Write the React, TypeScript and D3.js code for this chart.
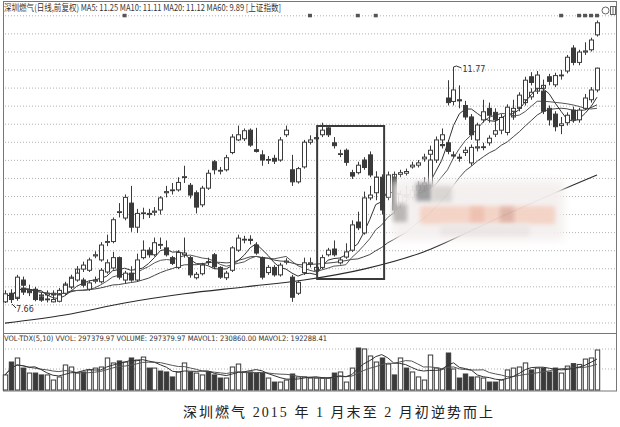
import React from 'react';
import * as d3 from 'd3';

// 深圳燃气 daily candles (前复权)
const stockOpen = [7.68,7.83,7.76,8.06,7.86,7.90,7.76,7.72,7.68,7.69,
7.83,7.94,8.06,8.06,7.90,8.04,8.03,8.20,8.27,8.45,
8.06,8.18,8.06,8.45,8.58,8.50,8.68,8.62,8.45,8.28,
8.50,8.45,8.10,8.17,8.38,8.50,8.28,8.10,8.23,8.58,
8.76,8.77,8.67,8.45,8.19,8.28,8.15,8.37,8.11,7.83,
8.19,8.34,8.23,8.28,8.50,8.60,8.36,8.46,8.58,9.07,
8.88,9.49,9.58,9.85,9.50,9.85,9.40,9.55,9.50,9.62,
9.70,9.71,10.15,10.50,11.23,11.17,11.20,11.10,10.90,10.50,
10.85,11.05,10.98,10.67,10.63,11.00,11.07,11.20,11.60,11.40,
11.35,11.05,10.95,10.75,10.80,11.02,10.85,11.05,11.20,11.37];
const stockClose = [7.82,7.72,8.11,7.97,7.88,7.72,7.71,7.73,7.72,7.80,
7.97,8.09,8.18,7.97,8.01,8.06,8.23,8.36,8.45,8.11,
8.18,8.06,8.41,8.58,8.50,8.71,8.67,8.50,8.35,8.54,
8.53,8.15,8.16,8.32,8.37,8.29,8.11,8.18,8.62,8.79,
8.77,8.75,8.53,8.11,8.28,8.15,8.32,8.39,7.76,8.02,
8.36,8.36,8.28,8.45,8.58,8.50,8.41,8.55,9.02,8.97,
9.49,9.54,9.85,9.28,9.89,9.28,9.55,9.50,9.62,9.70,
9.75,10.15,10.50,10.59,11.15,11.37,11.18,10.90,10.59,10.76,
10.99,10.93,10.85,10.89,11.07,11.05,11.28,11.54,11.50,11.63,
11.00,10.85,10.73,10.78,10.93,10.85,11.02,11.23,11.37,11.75];
const stockHigh = [7.88,7.90,8.15,8.12,7.98,7.94,7.80,7.78,7.75,7.83,
8.00,8.15,8.30,8.10,8.05,8.12,8.27,8.42,8.55,8.47,
8.22,8.30,8.52,8.75,8.63,8.80,8.80,8.75,8.48,8.58,
8.80,8.48,8.20,8.36,8.45,8.53,8.30,8.22,8.65,8.85,
8.83,8.84,8.72,8.47,8.32,8.32,8.36,8.44,8.15,8.05,
8.45,8.45,8.32,8.50,8.62,8.75,8.45,8.70,9.10,9.25,
9.60,9.70,9.95,9.90,9.95,9.90,9.62,9.70,9.70,9.78,
9.85,10.20,10.56,10.70,11.54,11.77,11.45,11.18,10.95,10.80,
11.20,11.15,11.05,10.95,11.12,11.20,11.33,11.60,11.68,11.70,
11.45,11.10,11.00,10.90,10.98,11.08,11.06,11.30,11.42,11.76];
const stockLow = [7.67,7.66,7.72,7.93,7.80,7.69,7.68,7.67,7.67,7.67,
7.80,7.92,8.03,7.93,7.87,8.00,8.00,8.17,8.24,8.07,
8.00,8.03,8.03,8.42,8.45,8.47,8.60,8.47,8.32,8.25,
8.45,8.10,8.07,8.14,8.32,8.25,8.08,8.06,8.20,8.55,
8.70,8.68,8.50,8.07,8.15,8.12,8.12,8.33,7.68,7.80,
8.15,8.28,8.19,8.25,8.47,8.47,8.33,8.43,8.55,8.93,
8.85,9.45,9.45,9.20,9.45,9.20,9.30,9.42,9.45,9.55,
9.60,9.65,10.10,10.45,11.10,11.10,11.05,10.85,10.50,10.40,
10.80,10.80,10.70,10.60,10.58,10.90,11.00,11.15,11.45,11.35,
10.95,10.75,10.65,10.60,10.75,10.80,10.80,11.02,11.15,11.33];

// 上证指数 overlay (drawn on the stock's price scale)
const indexOpen = [7.70,7.78,7.74,7.92,7.84,7.86,7.78,7.80,7.83,7.80,
7.88,7.94,8.10,8.25,8.23,8.48,8.41,8.72,8.73,9.24,
9.14,9.40,8.98,9.22,9.20,9.24,9.28,9.58,9.62,9.63,
9.85,9.71,9.58,9.37,9.66,10.12,9.96,9.98,10.28,10.50,
10.52,10.67,10.33,10.24,10.15,10.18,10.15,10.59,9.98,9.77,
10.03,10.46,10.52,10.59,10.71,10.45,10.25,10.32,9.93,9.93,
10.15,10.24,9.85,9.70,9.60,9.85,9.90,9.92,10.03,10.06,
10.17,10.25,10.38,10.42,10.45,10.24,10.20,10.28,10.10,10.36,
10.38,10.45,10.60,10.70,10.80,10.90,11.05,11.15,11.25,11.35,
11.40,11.60,11.46,11.62,11.70,12.10,11.85,12.03,12.07,12.33];
const indexClose = [7.78,7.74,7.90,7.85,7.86,7.78,7.80,7.83,7.80,7.88,
7.99,8.11,8.25,8.32,8.41,8.50,8.67,8.73,9.11,9.25,
9.50,8.98,9.22,9.23,9.22,9.26,9.49,9.60,9.63,9.76,
9.86,9.54,9.33,9.66,9.92,9.98,9.97,10.19,10.55,10.59,
10.66,10.41,10.30,10.15,10.16,10.13,10.50,10.67,9.77,10.00,
10.46,10.50,10.54,10.67,10.59,10.40,10.26,10.11,9.87,10.06,
10.02,9.89,9.65,9.50,9.63,9.90,9.93,9.95,10.06,10.10,
10.20,10.32,10.41,10.40,10.30,10.22,10.18,10.32,10.37,10.38,
10.37,10.53,10.66,10.78,10.85,11.00,11.10,11.22,11.33,11.40,
11.45,11.52,11.62,11.63,11.94,11.85,12.03,12.05,12.24,12.54];
const indexHigh = [7.85,7.86,7.95,7.98,7.92,7.90,7.85,7.88,7.88,7.92,
8.03,8.15,8.30,8.38,8.45,8.56,8.72,8.85,9.15,9.40,
9.55,9.70,9.30,9.32,9.30,9.33,9.52,9.70,9.75,9.85,
10.05,9.75,9.62,9.70,9.98,10.15,10.03,10.24,10.60,10.75,
10.70,10.70,10.71,10.32,10.22,10.24,10.55,10.75,10.24,10.03,
10.50,10.58,10.62,10.80,10.74,10.55,10.33,10.35,9.98,10.12,
10.20,10.30,9.95,9.78,9.75,9.95,9.98,10.00,10.12,10.15,
10.26,10.40,10.48,10.50,10.50,10.30,10.26,10.38,10.42,10.45,
10.45,10.58,10.72,10.85,10.92,11.05,11.18,11.28,11.40,11.48,
11.55,11.65,11.67,11.72,11.98,12.15,12.07,12.20,12.28,12.58];
const indexLow = [7.66,7.70,7.70,7.80,7.78,7.74,7.72,7.76,7.75,7.78,
7.85,7.90,8.05,8.20,8.20,8.44,8.38,8.65,8.70,9.15,
9.10,8.90,8.88,9.12,9.14,9.18,9.20,9.50,9.55,9.60,
9.75,9.48,9.22,9.33,9.63,9.90,9.90,9.95,10.25,10.48,
10.48,10.38,10.28,10.05,10.08,10.08,10.12,10.55,9.70,9.74,
10.00,10.42,10.48,10.55,10.55,10.35,10.20,10.05,9.82,9.90,
9.98,9.85,9.55,9.40,9.50,9.80,9.85,9.88,10.00,10.02,
10.12,10.20,10.32,10.35,10.25,10.18,10.12,10.22,10.05,10.30,
10.32,10.40,10.55,10.65,10.75,10.85,11.00,11.10,11.20,11.30,
11.35,11.45,11.42,11.55,11.66,11.80,11.80,11.98,12.04,12.30];

// MA60 at every tenth session
const ma60Index = [0,10,20,30,40,50,60,70,80,90,99];
const ma60Value = [7.31,7.45,7.66,7.82,7.94,8.06,8.25,8.55,9.02,9.49,9.89];

const volume = [112000,208000,238000,163000,126000,126000,112000,112000,74000,97000,
186000,171000,126000,134000,149000,163000,171000,238000,201000,216000,
208000,238000,223000,245000,163000,163000,141000,134000,97000,134000,
201000,134000,126000,112000,134000,112000,89000,89000,171000,193000,
134000,134000,126000,126000,89000,59000,59000,74000,119000,97000,
97000,89000,89000,89000,89000,126000,134000,59000,163000,312000,
305000,253000,208000,238000,193000,112000,238000,163000,134000,97000,
74000,260000,163000,156000,275000,156000,89000,119000,97000,97000,
89000,59000,59000,74000,149000,163000,171000,201000,149000,163000,
163000,134000,163000,126000,178000,196000,190000,230000,238000,297380];

// info-mine marker sessions on the top grid line
const markerIndex = [20,51,59,62,93,96,97,98,99];

const headerText = '深圳燃气(日线,前复权) MA5: 11.25 MA10: 11.11 MA20: 11.12 MA60: 9.89 [上证指数]';
const volHeaderText = 'VOL-TDX(5,10) VVOL: 297379.97  VOLUME: 297379.97 MAVOL1: 230860.00 MAVOL2: 192288.41';
const caption = '深圳燃气 2015 年 1 月末至 2 月初逆势而上';

const DARK = '#3a3a3a';

function movingAvg(arr: number[], n: number): number[] {
  return arr.map((_, i) => {
    const s = Math.max(0, i - n + 1);
    return d3.mean(arr.slice(s, i + 1)) as number;
  });
}

function Candles({ o, c, h, l, x, y }: any) {
  return (
    <g>
      {o.map((op: number, i: number) => {
        const cl = c[i];
        const up = cl >= op;
        const cx = Math.round(x(i)) + 0.5;
        const top = y(Math.max(op, cl));
        const bot = y(Math.min(op, cl));
        const bh = Math.max(bot - top, 0.8);
        return (
          <g key={i}>
            <line x1={cx} x2={cx} y1={y(h[i])} y2={top} stroke={DARK} strokeWidth={1} />
            <line x1={cx} x2={cx} y1={top + bh} y2={y(l[i])} stroke={DARK} strokeWidth={1} />
            <rect x={cx - 2} y={top} width={4} height={bh} fill={up ? '#fff' : DARK} stroke={DARK} strokeWidth={1} />
          </g>
        );
      })}
    </g>
  );
}

export default function App() {
  const n = stockClose.length;
  const x = d3.scaleLinear().domain([0, n - 1]).range([5, 597]);
  const y = d3.scaleLinear().domain([7.66, 11.77]).range([303, 67]);
  const yv = d3.scaleLinear().domain([0, 297380]).range([390, 350]);

  const ma5 = movingAvg(stockClose, 5);
  const ma10 = movingAvg(stockClose, 10);
  const ma20 = movingAvg(stockClose, 20);
  const line = d3.line<number>().x((_, i) => x(i)).y((d) => y(d));
  const ma60Line = d3.line<number>().x((_, i) => x(ma60Index[i])).y((d) => y(d)).curve(d3.curveMonotoneX);

  const mv5 = movingAvg(volume, 5);
  const mv10 = movingAvg(volume, 10);
  const vline = d3.line<number>().x((_, i) => x(i)).y((d) => yv(d));

  const gridY = d3.range(18).map((k) => 15.8 + k * 18.07);
  const volGrid = [349, 369];

  const lowI = d3.minIndex(stockLow);
  const highI = d3.maxIndex(stockHigh);
  const lx = x(lowI), ly = y(stockLow[lowI]);
  const hx = x(highI), hy = y(stockHigh[highI]);

  // box around late Jan – early Feb sessions
  const boxX0 = x(52.2), boxX1 = x(63.4);
  const boxY0 = 126, boxY1 = 279;

  const sans = "'Noto Sans CJK SC', 'DejaVu Sans', sans-serif";

  return (
    <svg width={620} height={427} style={{ position: 'absolute', left: 0, top: 0, background: '#fff' }}>
      <defs>
        <filter id="blur4" x="-20%" y="-40%" width="140%" height="180%">
          <feGaussianBlur stdDeviation="4" />
        </filter>
        <filter id="blur2" x="-20%" y="-40%" width="140%" height="180%">
          <feGaussianBlur stdDeviation="2" />
        </filter>
      </defs>
      <rect x={0} y={0} width={620} height={427} fill="#fff" />

      {/* frames */}
      <rect x={3.5} y={1.5} width={613} height={389.5} fill="none" stroke="#777" strokeWidth={1} />
      <line x1={3} x2={617} y1={333.5} y2={333.5} stroke="#777" />

      {/* grid */}
      {gridY.map((gy, k) => (
        <line key={k} x1={5} x2={615} y1={gy} y2={gy} stroke="#b0b0b0" strokeDasharray="1 2" />
      ))}
      {volGrid.map((gy, k) => (
        <line key={k} x1={5} x2={615} y1={gy} y2={gy} stroke="#b0b0b0" strokeDasharray="1 2" />
      ))}

      {/* markers */}
      {markerIndex.map((mi, k) => (
        <rect key={k} x={x(mi) - 2} y={gridY[0] - 2} width={4} height={3.5} fill="#555" />
      ))}

      {/* header */}
      <text x={4} y={11} fontSize={9} fontFamily={sans} fill="#333" textLength={277} lengthAdjust="spacingAndGlyphs">{headerText}</text>
      <circle cx={605.5} cy={10.5} r={3.5} fill="none" stroke="#666" />
      <rect x={610.5} y={6.5} width={5} height={8} fill="none" stroke="#666" />
      <line x1={613} x2={613} y1={7} y2={14} stroke="#666" />

      {/* MA60 */}
      <path d={ma60Line(ma60Value) || ''} fill="none" stroke="#2a2a2a" strokeWidth={1.1} />

      {/* overlay index candles */}
      <Candles o={indexOpen} c={indexClose} h={indexHigh} l={indexLow} x={x} y={y} />

      {/* stock MAs */}
      <path d={line(ma20) || ''} fill="none" stroke="#444" strokeWidth={1} />
      <path d={line(ma10) || ''} fill="none" stroke="#555" strokeWidth={1} />
      <path d={line(ma5) || ''} fill="none" stroke="#333" strokeWidth={1} />

      {/* stock candles */}
      <Candles o={stockOpen} c={stockClose} h={stockHigh} l={stockLow} x={x} y={y} />

      {/* mosaic watermark */}
      <g opacity={0.95}>
        <rect x={392} y={180} width={172} height={60} fill="#f4f0ef" filter="url(#blur4)" />
        <rect x={416} y={183} width={16} height={18} fill="#9a9a9a" filter="url(#blur2)" />
        <rect x={432} y={186} width={20} height={16} fill="#d8d4d2" filter="url(#blur2)" />
        <rect x={393} y={204} width={14} height={18} fill="#b8b4b2" filter="url(#blur2)" />
        <rect x={420} y={206} width={135} height={18} fill="#f4d2c4" filter="url(#blur2)" />
        <rect x={500} y={207} width={14} height={16} fill="#deb3a5" filter="url(#blur2)" />
        <rect x={470} y={207} width={14} height={16} fill="#eebfae" filter="url(#blur2)" />
        <rect x={440} y={224} width={90} height={12} fill="#ebe6e5" filter="url(#blur2)" />
      </g>

      {/* highlight box */}
      <rect x={boxX0} y={boxY0} width={boxX1 - boxX0} height={boxY1 - boxY0} fill="none" stroke="#3a3a3a" strokeWidth={2} />

      {/* extreme labels */}
      <line x1={lx + 1} y1={ly + 1} x2={lx + 5} y2={ly + 5} stroke="#333" />
      <text x={lx + 5} y={ly + 9} fontSize={8} fontFamily="'DejaVu Sans', sans-serif" fill="#333">{stockLow[lowI].toFixed(2)}</text>
      <path d={`M${hx},${hy} L${hx + 3},${hy - 1} L${hx + 8},${hy + 1}`} fill="none" stroke="#333" />
      <text x={hx + 9} y={hy + 5} fontSize={8} fontFamily="'DejaVu Sans', sans-serif" fill="#333">{stockHigh[highI].toFixed(2)}</text>

      {/* volume panel */}
      <text x={4} y={341} fontSize={7.5} fontFamily="'DejaVu Sans', sans-serif" fill="#333" textLength={323} lengthAdjust="spacingAndGlyphs">{volHeaderText}</text>
      {volume.map((v, i) => {
        const up = stockClose[i] >= stockOpen[i];
        const cx = Math.round(x(i)) + 0.5;
        return (
          <rect key={i} x={cx - 2.2} y={yv(v)} width={4.4} height={390 - yv(v)} fill={up ? '#fff' : DARK} stroke={DARK} strokeWidth={1} />
        );
      })}
      <path d={vline(mv10) || ''} fill="none" stroke="#555" strokeWidth={1} />
      <path d={vline(mv5) || ''} fill="none" stroke="#333" strokeWidth={1} />

      {/* caption */}
      <text x={183} y={417} fontSize={14} fontFamily="'Liberation Serif', 'Noto Sans CJK SC', serif" fill="#222" textLength={310} lengthAdjust="spacing">{caption}</text>
    </svg>
  );
}
